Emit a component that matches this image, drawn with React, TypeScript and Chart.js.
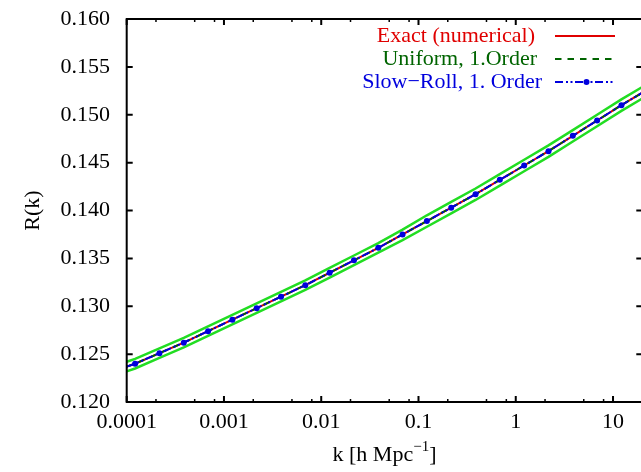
import { useEffect, useRef } from 'react';
import { Chart, registerables } from 'chart.js';

Chart.register(...registerables);

// k values [h/Mpc]
const K = [
  1e-4, 1.22e-4, 2.17e-4, 3.86e-4, 6.86e-4, 1.22e-3, 2.17e-3, 3.86e-3, 6.86e-3,
  1.22e-2, 2.17e-2, 3.86e-2, 6.86e-2, 0.122, 0.217, 0.386, 0.686, 1.22, 2.17,
  3.86, 6.86, 12.2, 20,
];
const EXACT = [
  0.1237, 0.1240, 0.1251, 0.1262, 0.1274, 0.1286, 0.1298, 0.1310, 0.1322,
  0.1335, 0.1348, 0.1361, 0.1375, 0.1389, 0.1403, 0.1417, 0.1432, 0.1447, 0.1462,
  0.1478, 0.1494, 0.1510, 0.1523,
];
const UNIFORM = [
  0.1237, 0.1240, 0.1251, 0.1262, 0.1274, 0.1286, 0.1298, 0.1310, 0.1322,
  0.1335, 0.1348, 0.1361, 0.1375, 0.1389, 0.1403, 0.1417, 0.1432, 0.1447, 0.1462,
  0.1478, 0.1494, 0.1510, 0.1523,
];
const SLOW_ROLL = [
  0.1237, 0.1240, 0.1251, 0.1262, 0.1274, 0.1286, 0.1298, 0.1310, 0.1322,
  0.1335, 0.1348, 0.1361, 0.1375, 0.1389, 0.1403, 0.1417, 0.1432, 0.1447, 0.1462,
  0.1478, 0.1494, 0.1510, 0.1523,
];
const BAND_UPPER = [
  0.1242, 0.1245, 0.1256, 0.1267, 0.1279, 0.1291, 0.1303, 0.1315, 0.1327,
  0.1340, 0.1353, 0.1366, 0.1380, 0.1395, 0.1409, 0.1423, 0.1438, 0.1453, 0.1468,
  0.1484, 0.1500, 0.1516, 0.1529,
];
const BAND_LOWER = [
  0.1232, 0.1235, 0.1246, 0.1257, 0.1269, 0.1281, 0.1293, 0.1305, 0.1317,
  0.1330, 0.1343, 0.1356, 0.1369, 0.1383, 0.1397, 0.1411, 0.1426, 0.1441, 0.1456,
  0.1472, 0.1488, 0.1504, 0.1517,
];
// marker shown on slow-roll curve (1 = marker)
const SLOW_ROLL_MARKS = [0, 1, 1, 1, 1, 1, 1, 1, 1, 1, 1, 1, 1, 1, 1, 1, 1, 1, 1, 1, 1, 1, 0];

const X_TICKS = [0.0001, 0.001, 0.01, 0.1, 1, 10];
const X_TICK_LABELS = ['0.0001', '0.001', '0.01', '0.1', '1', '10'];
const X_MINOR_MULT = [2, 5, 8];
const Y_TICKS = [0.12, 0.125, 0.13, 0.135, 0.14, 0.145, 0.15, 0.155, 0.16];
const Y_TICK_LABELS = ['0.120', '0.125', '0.130', '0.135', '0.140', '0.145', '0.150', '0.155', '0.160'];

const FONT = "'Liberation Serif', 'Times New Roman', serif";
const RED = '#e00000';
const DKGREEN = '#006400';
const BLUE = '#0000dd';
const BAND = '#22dd22';
const BLUE_DASH = [8, 3, 2, 2.5, 2, 2.5];
const GREEN_DASH = [6.5, 6];

const pts = (ys: number[]) => K.map((k, i) => ({ x: k, y: ys[i] }));

const decoPlugin = {
  id: 'deco',
  afterDraw(chart: any) {
    const { ctx, chartArea: a, scales } = chart;
    const xs = scales.x;
    const ys = scales.y;
    ctx.save();
    ctx.strokeStyle = '#000';
    ctx.lineWidth = 2;
    ctx.setLineDash([]);
    ctx.beginPath();
    for (const v of Y_TICKS) {
      const y = ys.getPixelForValue(v);
      ctx.moveTo(a.left, y);
      ctx.lineTo(a.left + 6, y);
      ctx.moveTo(a.right, y);
      ctx.lineTo(a.right - 6, y);
    }
    for (const v of X_TICKS) {
      const x = xs.getPixelForValue(v);
      ctx.moveTo(x, a.bottom);
      ctx.lineTo(x, a.bottom - 6);
      ctx.moveTo(x, a.top);
      ctx.lineTo(x, a.top + 6);
    }
    ctx.stroke();
    ctx.lineWidth = 1.5;
    ctx.beginPath();
    for (const d of X_TICKS) {
      for (const m of X_MINOR_MULT) {
        const v = d * m;
        if (v > 20) continue;
        const x = xs.getPixelForValue(v);
        ctx.moveTo(x, a.bottom);
        ctx.lineTo(x, a.bottom - 3);
        ctx.moveTo(x, a.top);
        ctx.lineTo(x, a.top + 3);
      }
    }
    ctx.stroke();
    ctx.lineWidth = 2;
    ctx.strokeRect(a.left, a.top, a.right - a.left, a.bottom - a.top);

    // axis titles
    ctx.fillStyle = '#000';
    ctx.font = `22px ${FONT}`;
    ctx.textBaseline = 'middle';
    ctx.save();
    ctx.translate(33, (a.top + a.bottom) / 2);
    ctx.rotate(-Math.PI / 2);
    ctx.textAlign = 'center';
    ctx.fillText('R(k)', 0, 0);
    ctx.restore();

    const main1 = 'k [h Mpc';
    const sup = '\u22121';
    const main2 = ']';
    ctx.font = `22px ${FONT}`;
    const w1 = ctx.measureText(main1).width;
    const w3 = ctx.measureText(main2).width;
    ctx.font = `15px ${FONT}`;
    const w2 = ctx.measureText(sup).width;
    const total = w1 + w2 + w3;
    const x0 = (a.left + a.right) / 2 - total / 2;
    const ty = 455;
    ctx.textAlign = 'left';
    ctx.font = `22px ${FONT}`;
    ctx.fillText(main1, x0, ty);
    ctx.font = `15px ${FONT}`;
    ctx.fillText(sup, x0 + w1, ty - 8);
    ctx.font = `22px ${FONT}`;
    ctx.fillText(main2, x0 + w1 + w2, ty);

    // legend
    const rows = [
      { label: 'Exact (numerical)', color: RED, dash: [] as number[], y: 36, tx: 535, mark: false },
      { label: 'Uniform, 1.Order', color: DKGREEN, dash: GREEN_DASH, y: 59, tx: 537, mark: false },
      { label: 'Slow\u2212Roll, 1. Order', color: BLUE, dash: BLUE_DASH, y: 82, tx: 542, mark: true },
    ];
    for (const r of rows) {
      ctx.font = `22px ${FONT}`;
      ctx.textAlign = 'right';
      ctx.fillStyle = r.color;
      ctx.fillText(r.label, r.tx, r.y);
      ctx.strokeStyle = r.color;
      ctx.lineWidth = 2;
      ctx.setLineDash(r.dash);
      ctx.beginPath();
      ctx.moveTo(555, r.y);
      ctx.lineTo(615, r.y);
      ctx.stroke();
      ctx.setLineDash([]);
      if (r.mark) {
        ctx.beginPath();
        ctx.arc(586.5, r.y, 3, 0, Math.PI * 2);
        ctx.fill();
      }
    }
    ctx.restore();
  },
};

export default function App() {
  const ref = useRef<HTMLCanvasElement>(null);
  useEffect(() => {
    if (!ref.current) return;
    const chart = new Chart(ref.current, {
      type: 'line',
      data: {
        datasets: [
          {
            label: 'Slow-Roll, 1. Order',
            data: pts(SLOW_ROLL),
            borderColor: BLUE,
            backgroundColor: BLUE,
            borderWidth: 2,
            borderDash: BLUE_DASH,
            pointRadius: SLOW_ROLL_MARKS.map((m) => (m ? 3 : 0)),
            pointBorderWidth: 0,
            pointBackgroundColor: BLUE,
            fill: false,
            order: 1,
          },
          {
            label: 'Uniform, 1.Order',
            data: pts(UNIFORM),
            borderColor: DKGREEN,
            borderWidth: 2,
            borderDash: GREEN_DASH,
            pointRadius: 0,
            fill: false,
            order: 2,
          },
          {
            label: 'Exact (numerical)',
            data: pts(EXACT),
            borderColor: RED,
            borderWidth: 2,
            pointRadius: 0,
            fill: false,
            order: 3,
          },
          {
            label: 'upper',
            data: pts(BAND_UPPER),
            borderColor: BAND,
            borderWidth: 2.5,
            pointRadius: 0,
            fill: false,
            order: 4,
          },
          {
            label: 'lower',
            data: pts(BAND_LOWER),
            borderColor: BAND,
            borderWidth: 2.5,
            pointRadius: 0,
            fill: false,
            order: 4,
          },
        ],
      },
      options: {
        animation: false,
        responsive: false,
        devicePixelRatio: 1,
        events: [],
        layout: { padding: { top: 19, right: 0.7, left: 0, bottom: 0 } },
        plugins: { legend: { display: false }, tooltip: { enabled: false } },
        scales: {
          x: {
            type: 'logarithmic',
            min: 1e-4,
            max: 20,
            grid: { display: false, drawTicks: false },
            border: { display: false },
            afterBuildTicks: (s: any) => {
              s.ticks = X_TICKS.map((v) => ({ value: v }));
            },
            afterFit: (s: any) => {
              s.height = 70;
              s.paddingLeft = 0;
              s.paddingRight = 0;
              s.paddingTop = 0;
              s.paddingBottom = 0;
            },
            ticks: {
              autoSkip: false,
              maxRotation: 0,
              padding: 7,
              color: '#000',
              font: { family: FONT, size: 22 },
              callback: (_v: any, i: number) => X_TICK_LABELS[i],
            },
          },
          y: {
            type: 'linear',
            min: 0.12,
            max: 0.16,
            grid: { display: false, drawTicks: false },
            border: { display: false },
            afterBuildTicks: (s: any) => {
              s.ticks = Y_TICKS.map((v) => ({ value: v }));
            },
            afterFit: (s: any) => {
              s.width = 126.7;
              s.paddingLeft = 0;
              s.paddingRight = 0;
              s.paddingTop = 0;
              s.paddingBottom = 0;
            },
            ticks: {
              autoSkip: false,
              padding: 16.7,
              color: '#000',
              font: { family: FONT, size: 22 },
              callback: (_v: any, i: number) => Y_TICK_LABELS[i],
            },
          },
        },
      } as any,
      plugins: [decoPlugin],
    });
    return () => chart.destroy();
  }, []);
  return (
    <div
      style={{
        position: 'fixed',
        left: 0,
        top: 0,
        width: 641,
        height: 472,
        overflow: 'hidden',
        background: '#fff',
      }}
    >
      <canvas ref={ref} width={643} height={472} style={{ display: 'block', width: 643, height: 472 }} />
    </div>
  );
}
